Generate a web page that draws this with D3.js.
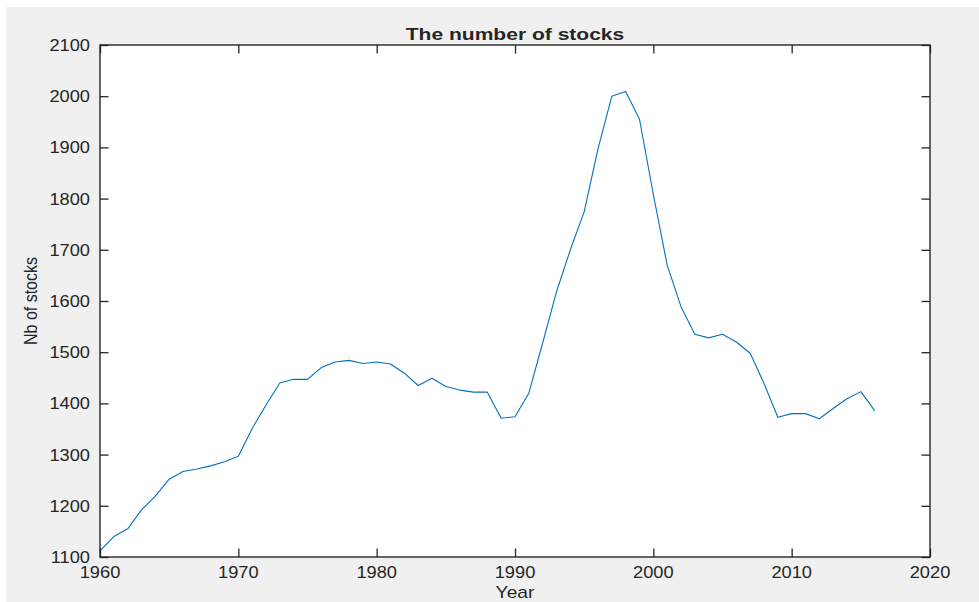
<!DOCTYPE html>
<html>
<head>
<meta charset="utf-8">
<script src="https://cdn.jsdelivr.net/npm/d3@7"></script>
<style>
  html, body { margin: 0; padding: 0; background: #ffffff; }
  svg { display: block; }
  text { font-family: "Liberation Sans", Helvetica, Arial, sans-serif; fill: #262626; }
</style>
</head>
<body>
<svg id="chart" width="979" height="602"></svg>
<script>
// Yearly count of listed stocks
const years = d3.range(1960, 2017);
const stocks = [
  1112, 1140, 1155, 1192, 1219, 1252, 1267, 1272, 1278, 1286,
  1297, 1351, 1397, 1440, 1447, 1447, 1470, 1481, 1484, 1478,
  1481, 1477, 1459, 1435, 1449, 1433, 1426, 1422, 1422, 1371,
  1374, 1420, 1518, 1618, 1700, 1774, 1897, 2000, 2009, 1955,
  1808, 1670, 1589, 1535, 1528, 1535, 1520, 1498, 1439, 1373,
  1380, 1380, 1370, 1390, 1409, 1423, 1386
];
const xTicks = [1960, 1970, 1980, 1990, 2000, 2010, 2020];
const yTicks = [1100, 1200, 1300, 1400, 1500, 1600, 1700, 1800, 1900, 2000, 2100];

const titleText = "The number of stocks";
const xLabelText = "Year";
const yLabelText = "Nb of stocks";

const svg = d3.select("#chart");
const W = 979, H = 602;
const plot = { left: 100, right: 930, top: 45, bottom: 557 };
const tickLen = 8.5;
const axisColor = "#262626";
const stretch = 1.14; // horizontal widening of the figure's lettering

// figure background
svg.append("rect").attr("x", 6).attr("y", 7).attr("width", W - 6).attr("height", H - 7)
  .attr("fill", "#f0f0f0");

// axes area
svg.append("rect")
  .attr("x", plot.left).attr("y", plot.top)
  .attr("width", plot.right - plot.left).attr("height", plot.bottom - plot.top)
  .attr("fill", "#ffffff");

const x = d3.scaleLinear().domain([1960, 2020]).range([plot.left, plot.right]);
const y = d3.scaleLinear().domain([1100, 2100]).range([plot.bottom, plot.top]);

// data line
svg.append("path")
  .datum(years.map((yr, i) => [yr, stocks[i]]))
  .attr("fill", "none")
  .attr("stroke", "#0072bd")
  .attr("stroke-width", 1.1)
  .attr("stroke-linejoin", "round")
  .attr("d", d3.line().x(d => x(d[0])).y(d => y(d[1])));

// inward ticks on all four sides, drawn with d3 axes
function styleAxis(g) {
  g.select(".domain").remove();
  g.selectAll(".tick line").attr("stroke", axisColor).attr("stroke-width", 1.3);
}

svg.append("g").attr("transform", `translate(0,${plot.bottom})`)
  .call(d3.axisBottom(x).tickValues(xTicks).tickSize(-tickLen).tickFormat(""))
  .call(styleAxis);
svg.append("g").attr("transform", `translate(0,${plot.top})`)
  .call(d3.axisTop(x).tickValues(xTicks).tickSize(-tickLen).tickFormat(""))
  .call(styleAxis);
svg.append("g").attr("transform", `translate(${plot.left},0)`)
  .call(d3.axisLeft(y).tickValues(yTicks).tickSize(-tickLen).tickFormat(""))
  .call(styleAxis);
svg.append("g").attr("transform", `translate(${plot.right},0)`)
  .call(d3.axisRight(y).tickValues(yTicks).tickSize(-tickLen).tickFormat(""))
  .call(styleAxis);

// box
svg.append("rect")
  .attr("x", plot.left).attr("y", plot.top)
  .attr("width", plot.right - plot.left).attr("height", plot.bottom - plot.top)
  .attr("fill", "none").attr("stroke", axisColor).attr("stroke-width", 1.4);

// x tick labels
svg.append("g").selectAll("text").data(xTicks).join("text")
  .attr("transform", d => `translate(${x(d)},578) scale(${stretch},1)`)
  .attr("text-anchor", "middle")
  .attr("font-size", 16)
  .text(d => d);

// y tick labels
svg.append("g").selectAll("text").data(yTicks).join("text")
  .attr("transform", d => `translate(90,${y(d) + 6}) scale(${stretch},1)`)
  .attr("text-anchor", "end")
  .attr("font-size", 16)
  .text(d => d);

// axis titles
svg.append("text")
  .attr("transform", `translate(${(plot.left + plot.right) / 2},598) scale(1.2,1)`)
  .attr("text-anchor", "middle")
  .attr("font-size", 16)
  .text(xLabelText);

svg.append("text")
  .attr("transform", `translate(36.5,${(plot.top + plot.bottom) / 2}) rotate(-90) scale(1,${stretch})`)
  .attr("text-anchor", "middle")
  .attr("font-size", 16)
  .text(yLabelText);

// chart title
svg.append("text")
  .attr("transform", `translate(${(plot.left + plot.right) / 2},39.5) scale(1.26,1)`)
  .attr("text-anchor", "middle")
  .attr("font-size", 16.7)
  .attr("font-weight", "bold")
  .attr("fill", "#000000")
  .text(titleText);
</script>
</body>
</html>
